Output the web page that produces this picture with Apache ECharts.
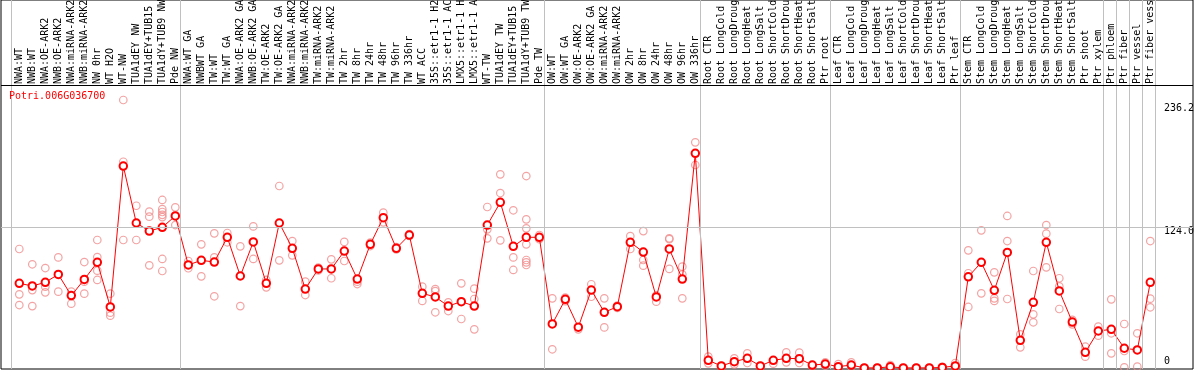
<!DOCTYPE html>
<html><head><meta charset="utf-8">
<script src="https://cdn.jsdelivr.net/npm/echarts@6/dist/echarts.min.js"></script>
<style>html,body{margin:0;padding:0;background:#fff;}#c{width:1194px;height:370px;}</style>
</head><body><div id="c"></div>
<script>
const titleText = 'Potri.006G036700';
const categories = [
 'NWA:WT','NWB:WT','NWA:OE-ARK2','NWB:OE-ARK2','NWA:miRNA-ARK2','NWB:miRNA-ARK2','NW 0hr','WT H2O','WT-NW',
 'TUA1dEY NW','TUA1dEY+TUB15 NW','TUA1dY+TUB9 NW','Pde NW',
 'NWA:WT GA','NWBWT GA','TW:WT','TW:WT GA','NWA:OE-ARK2 GA','NWB:OE-ARK2 GA','TW:OE-ARK2','TW:OE-ARK2 GA',
 'NWA:miRNA-ARK2','NWB:miRNA-ARK2','TW:miRNA-ARK2','TW:miRNA-ARK2','TW 2hr','TW 8hr','TW 24hr','TW 48hr','TW 96hr','TW 336hr',
 'WT ACC','35S::etr1-1 H2O','35S::etr1-1 ACC','LMX5::etr1-1 H2O','LMX5::etr1-1 ACC','WT-TW','TUA1dEY TW','TUA1dEY+TUB15 TW','TUA1dY+TUB9 TW','Pde TW',
 'OW:WT','OW:WT GA','OW:OE-ARK2','OW:OE-ARK2 GA','OW:miRNA-ARK2','OW:miRNA-ARK2','OW 2hr','OW 8hr','OW 24hr','OW 48hr','OW 96hr','OW 336hr',
 'Root CTR','Root LongCold','Root LongDrought','Root LongHeat','Root LongSalt','Root ShortCold','Root ShortDrought','Root ShortHeat','Root ShortSalt','Ptr root',
 'Leaf CTR','Leaf LongCold','Leaf LongDrought','Leaf LongHeat','Leaf LongSalt','Leaf ShortCold','Leaf ShortDrought','Leaf ShortHeat','Leaf ShortSalt','Ptr leaf',
 'Stem CTR','Stem LongCold','Stem LongDrought','Stem LongHeat','Stem LongSalt','Stem ShortCold','Stem ShortDrought','Stem ShortHeat','Stem ShortSalt','Ptr shoot',
 'Ptr xylem','Ptr phloem','Ptr fiber','Ptr vessel','Ptr fiber vessel'
];
const means = [
 74.6,72.3,75.5,82.5,63.8,78.1,93.1,53.8,178.0,127.8,120.7,124.0,134.0,
 90.8,94.9,93.4,115.2,81.1,111.1,74.6,127.8,105.5,69.6,87.3,87.3,103.1,78.4,109.0,132.5,105.5,117.2,
 65.8,62.6,54.6,58.5,54.6,126.0,146.0,107.2,115.2,115.2,
 38.8,60.5,36.0,68.7,49.1,54.0,110.8,102.2,62.6,104.9,78.4,189.2,
 6.8,1.8,5.6,8.5,1.8,6.8,8.5,8.2,2.6,3.5,
 1.2,2.6,0.1,0.1,1.0,0.1,0.1,0.1,0.5,1.8,
 80.4,93.1,68.5,101.9,24.4,57.9,110.8,67.9,40.5,13.8,
 32.6,34.1,17.4,15.9,75.5
];
const replicates = [
 [104.9,64.9,55.5],[91.4,68.7,54.6],[88.1,71.7,66.7],[97.5,67.3],[67.3,56.7],[93.4,76.1,65.5],[112.8,97.8,85.8,77.6],[65.5,48.8,46.1],
 [236.2,181.8,112.8],[143.0,112.8],[137.8,133.4,90.5],[148.1,140.0,137.5,135.0,133.0,96.1,85.5],[141.6,126.0],
 [94.3,87.9],[109.0,80.8],[118.7,97.5,63.2],[119.0,110.8],[107.2,54.6],[124.8,96.1],[77.6,71.1],[160.4,94.9],
 [111.9,99.3],[76.1,64.3],[88.5,86.0],[95.8,79.1],[111.1,94.3],[76.1,74.0],[110.5,107.5],[136.9,128.4],[106.5,104.5],[118.0,116.5],
 [71.7,59.1],[69.6,67.8,49.1],[57.9,50.2],[74.6,43.2],[69.9,60.8,34.1],[141.9,122.2,114.3],[170.7,154.2,112.5],[139.0,97.5,86.4],
 [169.2,131.0,123.1,109.0,95.2,93.1,90.8],[117.2,113.5],
 [61.4,16.5],[62.0,59.0],[34.1],[73.8,62.8],[61.4,35.8],[55.0,53.0],[116.3,104.9],[120.7,95.2,90.2],[64.1,58.5],[114.3,113.5,87.3],[89.3,82.5,61.4],[198.9,178.9],
 [10.0,4.1],[1.8,1.0],[8.5,3.2],[12.9,4.4],[1.8,1.0],[3.8],[13.8,5.0],[13.5,4.4],[2.6,1.5],[5.0,2.0],
 [3.5,0.5],[5.0,1.0],[0.1],[0.1],[2.5],[0.1],[0.1],[0.1],[1.0],[4.4,1.0],
 [103.7,83.5,53.8],[121.3,65.8],[84.3,61.4,59.1],[134.0,111.9,60.8],[29.7,18.2],[85.5,47.3,40.3],[126.0,118.4,88.7],[79.1,72.0,52.0],[42.5,38.5],[18.8,10.0],
 [36.4,28.5],[60.5,30.6,12.9],[38.8,15.0,0.5],[30.6,1.2],[111.9,61.1,53.5]
];
const groupEnds = [-1,12,40,52,62,72,83,84,85,86,87];
const yTickValues = [0,124,236.2];

// layout (pixels)
const GRID_H = 369, ZERO_Y = 368, PX_PER_UNIT = 1.1346, FRAME_TOP_Y = 85;
const X_PX_PER_CAT = 13.0, FIRST_CAT_X = 19.3, GRID_LEFT = 1, GRID_W = 1192;
const yMin = -(GRID_H - ZERO_Y) / PX_PER_UNIT;
const yMax = yMin + GRID_H / PX_PER_UNIT;
const frameTopValue = yMin + (GRID_H - FRAME_TOP_Y) / PX_PER_UNIT;
const xMin = -(FIRST_CAT_X - GRID_LEFT) / X_PX_PER_CAT;
const xMax = xMin + GRID_W / X_PX_PER_CAT;
const SEP_OFFSET = 5 / X_PX_PER_CAT;

const font = 'DejaVu Sans Mono';
const repPoints = [];
replicates.forEach((arr, i) => arr.forEach(v => repPoints.push([i, v])));

const chart = echarts.init(document.getElementById('c'), null, {renderer: 'canvas'});
chart.setOption({
  animation: false,
  backgroundColor: '#fff',
  title: {
    text: titleText, left: 9, top: 91, padding: 0,
    textStyle: {color: '#ff0000', fontSize: 10, fontFamily: font, fontWeight: 'normal'}
  },
  grid: {left: GRID_LEFT, right: 1194 - GRID_LEFT - GRID_W, top: 0, bottom: 370 - GRID_H, show: true,
         outerBoundsMode: 'none', containLabel: false,
         borderColor: '#000', borderWidth: 1, backgroundColor: 'transparent'},
  xAxis: {
    type: 'value', min: xMin, max: xMax, position: 'bottom',
    axisLine: {show: false}, axisTick: {show: false}, splitLine: {show: false},
    axisLabel: {
      inside: true, rotate: 90, margin: GRID_H - FRAME_TOP_Y + 1,
      customValues: categories.map((_, i) => i),
      formatter: v => categories[Math.round(v)] || '',
      fontFamily: font, fontSize: 10, color: '#000'
    }
  },
  yAxis: {
    type: 'value', min: yMin, max: yMax, position: 'right',
    axisLine: {show: false}, axisTick: {show: false}, splitLine: {show: false},
    axisLabel: {
      inside: true, margin: 29, align: 'left',
      customValues: yTickValues,
      formatter: v => v === 0 ? '{z|0}' : (v > 200 ? '{a|' + v.toFixed(1) + '}' : '{b|' + v.toFixed(1) + '}'),
      fontFamily: font, fontSize: 10, color: '#000',
      rich: {
        a: {fontFamily: font, fontSize: 10, color: '#000', padding: [17, 0, 0, 0]},
        b: {fontFamily: font, fontSize: 10, color: '#000', padding: [9, 0, 0, 0]},
        z: {fontFamily: font, fontSize: 10, color: '#000', padding: [0, 0, 13, 0]}
      }
    }
  },
  series: [
    {
      type: 'scatter', name: 'replicates', data: repPoints, z: 2,
      symbol: 'circle', symbolSize: 7.5,
      itemStyle: {color: 'rgba(0,0,0,0)', borderColor: '#f08c8c', borderWidth: 1.2},
      markLine: {
        silent: true, symbol: 'none', label: {show: false}, animation: false,
        data: [
          ...groupEnds.map(i => ({xAxis: i + SEP_OFFSET, lineStyle: {color: '#c0c0c0', width: 1, type: 'solid'}})),
          {yAxis: 124, lineStyle: {color: '#c0c0c0', width: 1, type: 'solid'}},
          {yAxis: frameTopValue, lineStyle: {color: '#000', width: 1, type: 'solid'}}
        ]
      }
    },
    {
      type: 'line', name: 'mean', data: means.map((v, i) => [i, v]), z: 3,
      symbol: 'emptyCircle', symbolSize: 7.5,
      itemStyle: {color: '#ff0000', borderWidth: 1.5},
      lineStyle: {color: '#ff0000', width: 1}
    }
  ]
});
</script>
</body></html>
